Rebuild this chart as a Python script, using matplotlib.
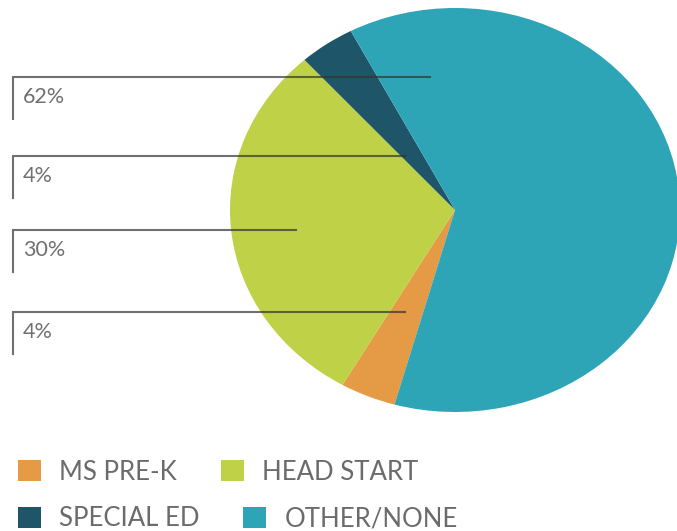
import matplotlib.pyplot as plt
from matplotlib.lines import Line2D

# data, legend order
categories = ["MS PRE-K", "HEAD START", "SPECIAL ED", "OTHER/NONE"]
values = [4, 30, 4, 62]
colors = ["#E59A45", "#BFD146", "#1F5568", "#2EA5B6"]

# callout order top to bottom (index into categories)
label_order = [3, 2, 1, 0]

W, H = 677, 531
fig = plt.figure(figsize=(W / 100, H / 100), dpi=100)

# pie is slightly stretched sideways in the original
cx, cy, rx, ry = 455, 210, 225, 202
pie_ax = fig.add_axes([(cx - rx) / W, (H - cy - ry) / H, 2 * rx / W, 2 * ry / H])
wedges, _ = pie_ax.pie(values, colors=colors, startangle=254.4, counterclock=False,
                       wedgeprops=dict(linewidth=0))
pie_ax.set_aspect("auto")
pie_ax.set_xlim(-1, 1)
pie_ax.set_ylim(-1, 1)
pie_ax.axis("off")

# overlay in pixel coords for callouts
ax = fig.add_axes([0, 0, 1, 1])
ax.set_xlim(0, W)
ax.set_ylim(H, 0)
ax.axis("off")
ax.patch.set_alpha(0)

line_y = [77, 156, 230, 312]
line_end = [430, 405, 296, 405]
for k, idx in enumerate(label_order):
    y = line_y[k]
    ax.add_line(Line2D([13, 13, line_end[k]], [y + 42, y, y], color="#333333",
                       alpha=0.7, lw=1.5, solid_joinstyle="miter"))
    ax.text(23, y + 20, f"{values[idx]}%", fontsize=15.5, color="#707070",
            family="Lato", va="center", ha="left")

leg_kw = dict(frameon=False, ncol=2, handlelength=0.9, handleheight=0.9,
              handletextpad=0.7, columnspacing=1.7, borderpad=0, borderaxespad=0,
              prop=dict(family="Lato", size=18.5))
leg1 = fig.legend(wedges[:2], categories[:2], loc="center left",
                  bbox_to_anchor=(18 / W, 1 - 472 / H), **leg_kw)
leg2 = fig.legend(wedges[2:], categories[2:], loc="center left",
                  bbox_to_anchor=(18 / W, 1 - 519 / H), **leg_kw)
for leg in (leg1, leg2):
    for t in leg.get_texts():
        t.set_color("#6b6b6b")

fig.savefig("out.png", dpi=100)
